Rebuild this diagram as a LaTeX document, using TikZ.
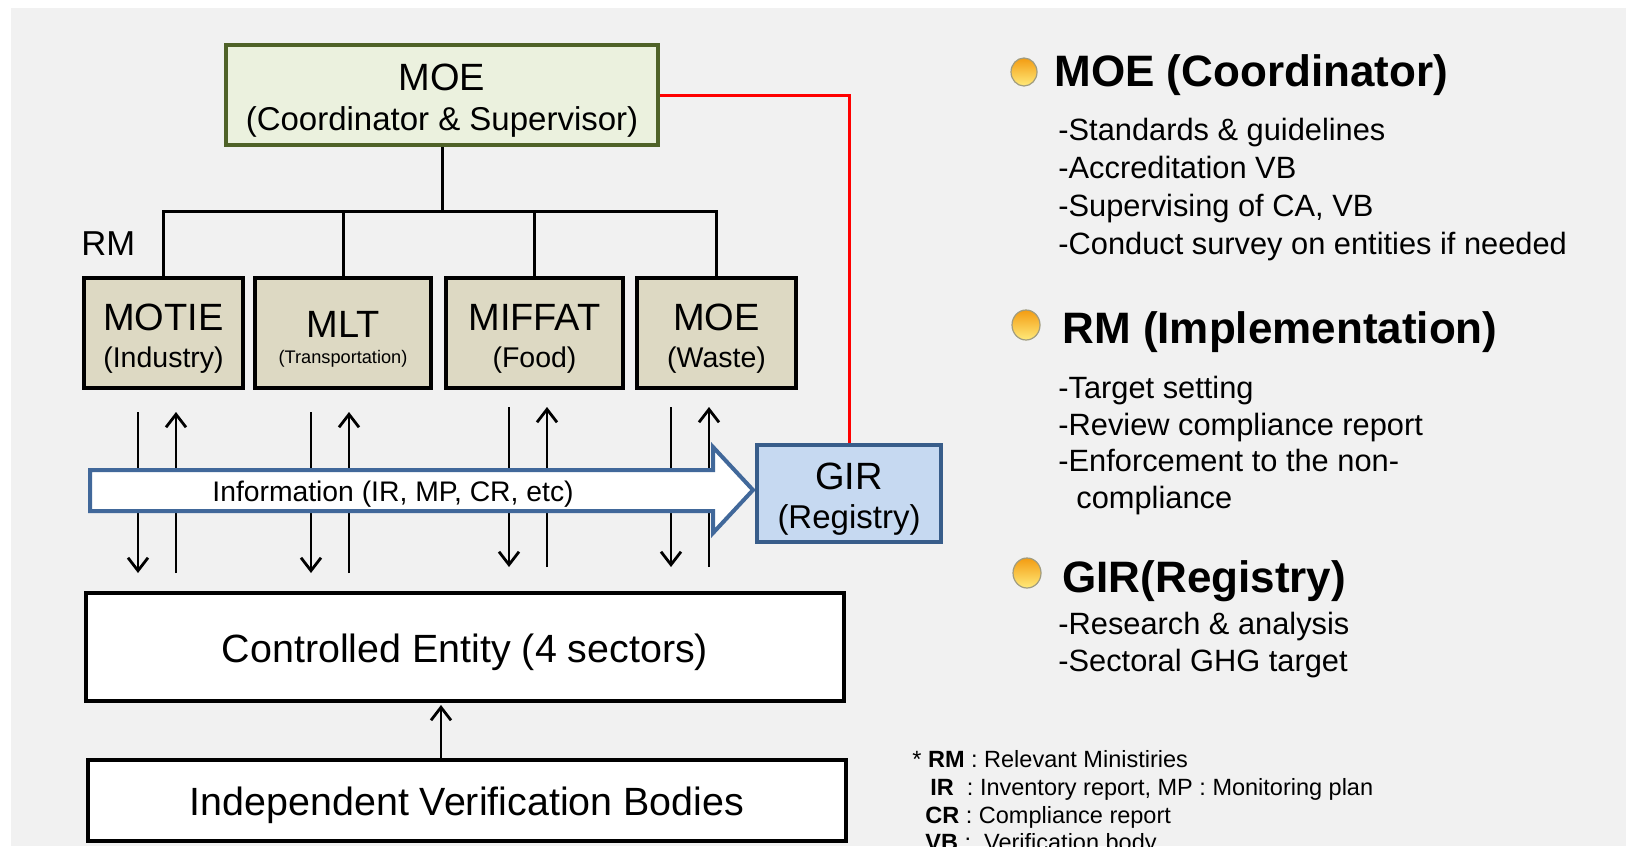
\documentclass[tikz,border=0pt]{standalone}
\usepackage{fontspec}
\setmainfont{Liberation Sans}
\usetikzlibrary{arrows.meta}
\definecolor{bgcol}{HTML}{F1F1F1}
\definecolor{moefill}{HTML}{EBF1DE}
\definecolor{moedraw}{HTML}{4F6228}
\definecolor{rmfill}{HTML}{DDD9C3}
\definecolor{girfill}{HTML}{C6D9F1}
\definecolor{girdraw}{HTML}{385D8A}
\definecolor{arrdraw}{HTML}{41689A}
\definecolor{bulletedge}{HTML}{A09C80}
\definecolor{bullettop}{HTML}{F39C12}
\definecolor{bulletbot}{HTML}{FFEA7A}
\definecolor{redline}{HTML}{FF0000}
\newcommand{\tstrut}{\rule{0pt}{19pt}}
\tikzset{
  box/.style={rectangle, draw, line width=2pt, inner sep=0pt, align=center},
  rmbox/.style={box, fill=rmfill, draw=black, minimum width=#1, minimum height=55pt,
    font=\fontsize{14.25}{18.5}\selectfont},
  widebox/.style={box, fill=white, draw=black, minimum width=379pt,
    font=\fontsize{19.7}{22}\selectfont},
  conn/.style={line width=1.5pt, black},
  redconn/.style={line width=1.5pt, redline},
  varrow/.style={line width=1.4pt, black, -{Straight Barb[length=6.5pt,width=10pt]}},
  bigarrow/.style={draw=arrdraw, fill=white, line width=2pt, line join=miter},
  heading/.style={anchor=base west, inner sep=0pt, font=\bfseries\fontsize{22}{26}\selectfont},
  item/.style={anchor=base west, inner sep=0pt, font=\fontsize{15.4}{18}\selectfont},
  foot/.style={anchor=base west, inner sep=0pt, font=\fontsize{11.75}{14}\selectfont},
  bulletdot/.style={draw=bulletedge, line width=0.6pt, top color=bullettop, bottom color=bulletbot},
}
\begin{document}
\begin{tikzpicture}[x=0.5pt,y=-0.5pt]
\useasboundingbox (0,0) rectangle (1626,846);
\fill[white] (0,0) rectangle (1626,846);
\fill[bgcol] (11,8) rectangle (1626,846);

% ---- top coordinator
\node[box, fill=moefill, draw=moedraw, minimum width=216pt, minimum height=50pt,
  font=\fontsize{16.5}{20}\selectfont] (moe) at (442,95)
  {\tstrut{\fontsize{19}{20}\selectfont MOE}\\(Coordinator \& Supervisor)};

% ---- relevant ministries
\node[rmbox=79.5pt] (motie) at (163.5,333) {\tstrut{\fontsize{19}{18.5}\selectfont MOTIE}\\(Industry)};
\node[rmbox=88pt, font=\fontsize{9.1}{13}\selectfont] (mlt) at (343,333) {\tstrut{\fontsize{19}{13}\selectfont MLT}\\(Transportation)};
\node[rmbox=88.5pt] (miffat) at (534.5,333) {\tstrut{\fontsize{19}{18.5}\selectfont MIFFAT}\\(Food)};
\node[rmbox=79.5pt] (moew) at (716.5,333) {\tstrut{\fontsize{19}{18.5}\selectfont MOE}\\(Waste)};
\node[anchor=west, inner sep=0pt, font=\fontsize{17.3}{20}\selectfont] (rmlabel) at (81,244) {RM};

% ---- tree connectors
\coordinate (bar) at (0,211);
\draw[conn] (moe.south) -- (moe.south |- bar);
\draw[conn] (motie.north) -- (motie.north |- bar) -- (moew.north |- bar) -- (moew.north);
\draw[conn] (mlt.north) -- (mlt.north |- bar);
\draw[conn] (miffat.north) -- (miffat.north |- bar);

% ---- controlled entity and verification bodies
\node[widebox, minimum height=54pt] (ce) at (465,647) {\rule{0pt}{20pt}Controlled Entity (4 sectors)};
\node[widebox, minimum height=40.5pt] (ivb) at (467,800) {\rule{0pt}{20pt}Independent Verification Bodies};
\coordinate (ax) at (441,0);
\draw[varrow, shorten >=1pt] (ivb.north -| ax) -- (ce.south -| ax);

% ---- vertical information arrows
\foreach \xd/\xu/\yt/\yb [count=\i] in {138/176/412/573, 311/349/412/573, 509/547/407/567, 671/709/407/567}{
  \coordinate (dtop\i) at (\xd,\yt);
  \coordinate (dbot\i) at (\xd,\yb);
  \coordinate (utop\i) at (\xu,\yt);
  \coordinate (ubot\i) at (\xu,\yb);
  \draw[varrow] (dtop\i) -- (dbot\i);
  \draw[varrow] (ubot\i) -- (utop\i);
}

% ---- big information arrow
\draw[bigarrow] (90,470) -- (713,470) -- (713,447) -- (753,490) -- (713,533) -- (713,511) -- (90,511) -- cycle;
\node[inner sep=0pt, font=\fontsize{14.15}{16}\selectfont] (info) at (393,494) {Information (IR, MP, CR, etc)};

% ---- registry
\node[box, fill=girfill, draw=girdraw, minimum width=92pt, minimum height=48.5pt,
  font=\fontsize{16.5}{19.5}\selectfont] (gir) at (849,493)
  {\tstrut{\fontsize{19}{19.5}\selectfont GIR}\\(Registry)};
\draw[redconn] (moe.east) -| (gir.north);

% ---- right-hand description
\path[bulletdot] (1024,72) ellipse [x radius=6.5pt, y radius=7pt];
\path[bulletdot] (1026,325) ellipse [x radius=7pt, y radius=7.5pt];
\path[bulletdot] (1027,573) ellipse [x radius=7pt, y radius=7.5pt];

\node[heading] (h1) at (1054,86) {MOE (Coordinator)};
\node[item] (i1) at (1058,140) {-Standards \& guidelines};
\node[item] (i2) at (1058,178) {-Accreditation VB};
\node[item] (i3) at (1058,216) {-Supervising of CA, VB};
\node[item] (i4) at (1058,254) {-Conduct survey on entities if needed};

\node[heading] (h2) at (1062,343) {RM (Implementation)};
\node[item] (i5) at (1058,398) {-Target setting};
\node[item] (i6) at (1058,435) {-Review compliance report};
\node[item] (i7) at (1058,471) {-Enforcement to the non-};
\node[item] (i8) at (1076,508) {compliance};

\node[heading] (h3) at (1062,592) {GIR(Registry)};
\node[item] (i9) at (1058,634) {-Research \& analysis};
\node[item] (i10) at (1058,671) {-Sectoral GHG target};

% ---- footnote
\node[foot] (f1) at (912,767) {* \textbf{RM} : Relevant Ministiries};
\node[foot] (f2) at (930,795) {\textbf{IR}\ \ : Inventory report, MP : Monitoring plan};
\node[foot] (f3) at (925,823) {\textbf{CR} : Compliance report};
\node[foot] (f4) at (925,850) {\textbf{VB} :\ \ Verification body};
\end{tikzpicture}
\end{document}
